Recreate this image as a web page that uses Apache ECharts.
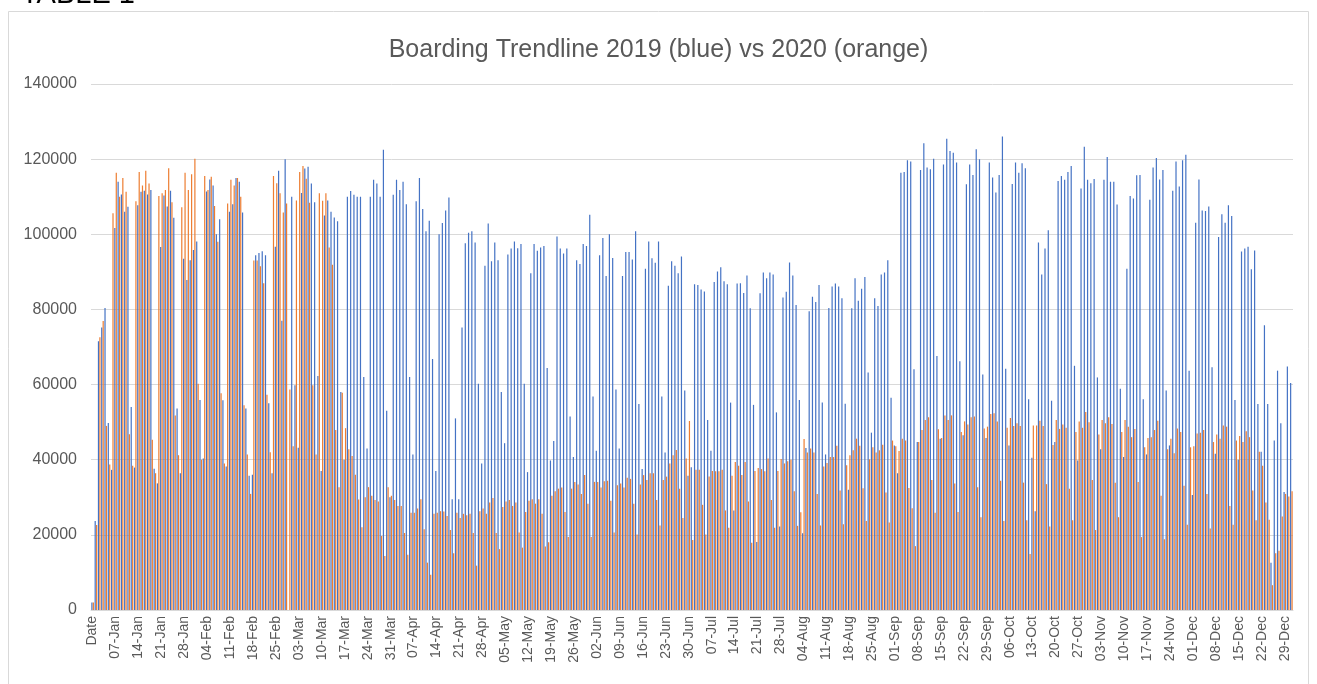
<!DOCTYPE html>
<html><head><meta charset="utf-8">
<script src="https://cdn.jsdelivr.net/npm/echarts@6/dist/echarts.min.js"></script>
<style>html,body{margin:0;padding:0;background:#fff;}#c{width:1317px;height:684px;}</style>
</head><body><div id="c"></div>
<script>
// Category labels: "Date" header row followed by every day of the (leap) year (dd-Mon)
const monthNames = ['Jan','Feb','Mar','Apr','May','Jun','Jul','Aug','Sep','Oct','Nov','Dec'];
const monthDays = [31,29,31,30,31,30,31,31,30,31,30,31];
const categories = ['Date'];
monthNames.forEach((m,i)=>{for(let d=1;d<=monthDays[i];d++){categories.push((d<10?'0':'')+d+'-'+m);}});

const yTicks = [0,20000,40000,60000,80000,100000,120000,140000];

// 2019 boardings (blue); 29-Feb has no 2019 value
const boardings2019 = [
2019,
23700,71500,75200,80400,49800,37300,
101700,114000,110600,106000,107300,54000,37900,
107700,111300,111600,110600,111800,37600,33700,
96600,110300,107400,111600,104400,53600,36400,
93500,87800,93100,95800,98100,55900,40300,
111400,114600,113000,100000,104000,55800,38200,
106000,108000,115000,114000,105800,53600,35700,
36000,94400,95000,95500,94400,55000,36400,
96700,116900,77000,120000,null,110000,59800,43200,
111000,117500,118000,113500,108500,62300,37000,
105000,109000,106000,104500,103500,58000,40000,
110000,111500,110500,110000,110000,62000,43000,
110000,114500,113500,110000,122500,53000,30000,
110500,114500,111800,114000,108000,62000,41400,
108800,115000,106700,100800,103600,66800,37000,
100000,103000,106300,109800,29500,51000,29500,
75200,97600,100400,100800,97800,60200,39000,
91600,102900,92800,97800,93100,58000,44400,
94600,96200,98100,96300,97400,60200,36700,
89600,97400,95600,96500,96900,64400,39800,
45000,99400,96200,94900,96200,51500,40700,
93100,92100,97400,96900,105200,56800,42400,
94400,99000,88900,100000,93700,58700,43000,
88900,95300,95300,93300,100800,54800,37500,
90800,98100,93600,92400,98100,56800,41900,
86300,92800,91600,89600,94100,58400,35700,
38000,86700,86500,85300,84800,50600,42400,
87300,90100,91200,87500,86700,55200,26500,
86900,87000,84400,89000,80300,54600,18100,
84300,89800,88300,89800,89300,52600,22200,
83200,84700,92500,89000,81200,55900,20400,
43100,79500,83400,82000,86500,55200,41400,
80400,86100,86900,86100,83000,54900,32000,
80300,88300,82300,85500,88600,63200,47200,
83000,80900,89300,89800,93100,56500,43800,
36400,116400,116600,119700,119400,64100,44700,
117100,124200,117800,117300,120100,67600,45600,
118600,125400,122200,121700,119100,66200,46500,
113300,118600,115800,122600,120000,62700,45800,
119100,115100,111100,115800,126000,64200,43800,
113400,119100,116400,118900,117600,56100,40500,
26300,97800,89300,96200,101100,55700,44700,
114200,115500,114500,116600,118200,65000,39800,
112200,123300,114500,113600,114700,61900,42800,
114500,120600,114000,114000,107900,58900,40700,
90800,110200,109500,115700,115800,56100,41400,
109200,117800,120300,114600,117100,58400,43800,
111600,119400,112700,119700,121200,63700,30600,
103100,114600,106300,106200,107400,64600,41600,
99300,105300,103100,107700,104900,55900,40000,
95400,96200,96700,90700,95700,54800,42100,
75800,54800,12600,45100,63700,49700,31400,
64800,60400
];

// 2020 boardings (orange)
const boardings2020 = [
2020,
22600,72600,76900,49000,38700,105600,
116400,110000,115000,111300,46800,38400,108800,
116600,113000,116900,113500,45300,36400,110200,
110900,111800,117600,108500,51800,41200,107200,
116400,111800,116000,120100,60200,40000,115500,
111800,115300,107500,98000,57700,39000,108200,
114500,113000,115000,110000,54500,41400,30900,
93000,93000,91500,87000,57300,42000,115500,
113600,110900,105800,108200,58700,43600,109000,116600,
118200,114800,108400,59800,41400,110900,108900,
110900,96500,91900,47900,32700,57800,48400,
42800,41000,36000,29400,22000,30000,32700,
30400,29300,28900,19700,14400,32700,30400,
29300,27700,27700,20500,14700,25900,25900,
27000,29500,21500,12600,9400,25600,25900,
26300,26200,25000,21300,15100,25900,24500,
25600,25200,25600,20500,11800,26300,27000,
25600,28600,29800,20500,16200,27400,28900,
29300,27700,28600,20600,16600,26100,29100,
29500,28300,29500,25600,16900,18000,30400,
31600,32300,32600,26100,19400,32300,34100,
33400,30900,35900,28300,19400,34100,34100,
32600,34300,34400,29100,20600,33200,33700,
32600,35200,34900,28300,20100,33400,35900,
34600,36400,36400,29300,22500,34600,35500,
39000,41200,42600,32300,24500,40300,50300,
18600,37300,37300,28000,20100,35500,37000,
36900,36900,37300,26500,21900,35700,39400,
38400,35900,39400,28900,17900,37000,37800,
37500,36900,40300,29300,21900,37000,40200,
39000,39600,40000,31600,22400,26000,45500,
41900,43000,41900,30900,22500,38200,39100,
40700,40700,43700,31800,22800,38500,41200,
42500,45600,43700,32400,23700,40100,43300,
41900,42500,44000,31300,23300,45100,43600,
42300,45600,45100,32500,27100,17000,44700,
47900,50600,51300,34600,25900,48100,45800,
51800,50600,51800,33700,26100,47400,50200,
49400,51300,51500,32700,24700,48300,48800,
52200,52400,50200,34400,23700,48500,51100,
49000,49700,49000,33900,23900,14900,49100,
49100,50400,49000,33500,22200,43900,50600,
48200,49400,48500,32300,23900,47400,50200,
48500,52700,50000,34600,21300,46700,50600,
49700,51300,49500,33900,24700,47400,50600,
48800,46000,48200,34100,19400,43300,45800,
46000,47900,50400,30400,18800,42800,45600,
41700,48300,47400,33100,22700,43300,43600,
47000,47200,47900,30900,21700,44700,46700,
45600,49100,48800,27700,22700,45100,46300,
44700,47600,46000,31800,23900,42100,38400,
28600,24000,6600,15100,15800,24900,30900,
30200,31600
];

const chart = echarts.init(document.getElementById('c'), null, {renderer:'canvas'});
const font = 'Liberation Sans';
chart.setOption({
  animation:false,
  backgroundColor:'#ffffff',
  title:{text:'Boarding Trendline 2019 (blue) vs 2020 (orange)', left:'center', top:33,
    textStyle:{fontFamily:font, fontSize:25, fontWeight:'normal', color:'#595959'}},
  graphic:[
    {type:'rect', shape:{x:8.5, y:11.5, width:1300, height:720}, style:{fill:'none', stroke:'#d9d9d9', lineWidth:1}, silent:true},
    {type:'text', style:{text:'TABLE 1', x:21, y:9, verticalAlign:'bottom', font:'29px "Liberation Sans"', fill:'#000'}, silent:true}
  ],
  grid:{left:91, right:24, top:84, bottom:74, containLabel:false},
  xAxis:{type:'category', data:categories,
    axisLine:{lineStyle:{color:'#d9d9d9'}}, axisTick:{show:false},
    axisLabel:{interval:6, rotate:90, fontFamily:font, fontSize:14, color:'#595959', margin:6}},
  yAxis:{type:'value', min:yTicks[0], max:yTicks[yTicks.length-1], interval:20000,
    axisLine:{show:false}, axisTick:{show:false},
    axisLabel:{fontFamily:font, fontSize:16, color:'#595959', margin:14, formatter:v=>String(v)},
    splitLine:{lineStyle:{color:'#d9d9d9', width:1}}},
  series:[
    {name:'2019', type:'bar', data:boardings2019, barWidth:1.2, barGap:'20%', itemStyle:{color:'#4472C4'}},
    {name:'2020', type:'bar', data:boardings2020, barWidth:1.2, barGap:'20%', itemStyle:{color:'#ED7D31'}}
  ]
});
</script></body></html>
